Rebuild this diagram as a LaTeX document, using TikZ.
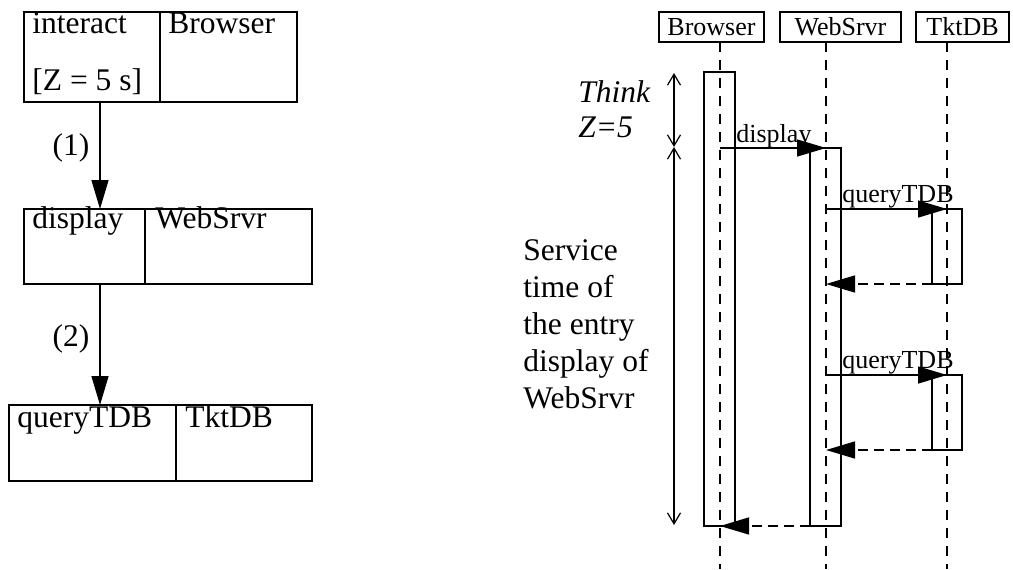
\documentclass[tikz,border=0pt]{standalone}
\usepackage{fontspec}
\setmainfont{Liberation Serif}
\usetikzlibrary{arrows.meta}
\definecolor{seqline}{RGB}{0,0,0}
\tikzset{
  cell/.style  ={draw=seqline, line width=0.7pt, anchor=north west, inner sep=0pt, outer sep=0pt},
  act/.style   ={draw=seqline, line width=0.7pt, anchor=north west, inner sep=0pt, outer sep=0pt, minimum width=15.5pt},
  head/.style  ={draw=seqline, line width=0.7pt, anchor=north west, inner sep=0pt, outer sep=0pt, minimum height=15pt, font=\fontsize{13}{15}\selectfont},
  big/.style   ={font=\fontsize{15.75}{18.5}\selectfont, inner sep=0pt, anchor=base west},
  small/.style ={font=\fontsize{13}{15}\selectfont, inner sep=0pt, anchor=base west},
  life/.style  ={draw=seqline, line width=0.7pt, dash pattern=on 5pt off 4pt},
  call/.style  ={draw=seqline, line width=0.7pt, -{Triangle[length=14.5pt,width=8.5pt]}},
  reply/.style ={call, dash pattern=on 5pt off 3pt},
  span/.style  ={draw=seqline, line width=0.6pt, {Straight Barb[length=5.5pt,width=6.5pt]}-{Straight Barb[length=5.5pt,width=6.5pt]}},
}

\begin{document}
\begin{tikzpicture}[x=0.5pt,y=-0.5pt]
  \useasboundingbox (0,0) rectangle (1013,569);
  % activity graph (left)
  \node[cell, minimum width=68pt, minimum height=45pt] (interactE) at (24,12) {};
  \node[cell, minimum width=68.5pt, minimum height=45pt] (browserT) at (160,12) {};
  \node[cell, minimum width=60.5pt, minimum height=37.5pt] (displayE) at (24,209) {};
  \node[cell, minimum width=83.5pt, minimum height=37.5pt] (websrvrT) at (145,209) {};
  \node[cell, minimum width=83.5pt, minimum height=38pt] (queryE) at (9,405) {};
  \node[cell, minimum width=68pt, minimum height=38pt] (tktdbT) at (176,405) {};
  \node[big] (txinteract) at (32,33) {interact};
  \node[big] (txthink) at (32,90) {[Z = 5 s]};
  \node[big] (txbrowser) at (168,33) {Browser};
  \node[big] (txdisplay) at (32,228) {display};
  \node[big] (txwebsrvr) at (155,228) {WebSrvr};
  \node[big] (txquery) at (17,427) {queryTDB};
  \node[big] (txtktdb) at (185,427) {TktDB};
  \coordinate (callx) at (100,0);
  \draw[call] (interactE.south -| callx) -- node[big, anchor=east, pos=.43, xshift=-5pt] (lbone) {(1)} (displayE.north -| callx);
  \draw[call] (displayE.south -| callx) -- node[big, anchor=east, pos=.45, xshift=-5pt] (lbtwo) {(2)} (queryE.north -| callx);

  % sequence diagram (right)
  \node[head, minimum width=52.5pt] (bhead) at (659,12) {Browser};
  \node[head, minimum width=60.5pt] (whead) at (780,12) {WebSrvr};
  \node[head, minimum width=46.5pt] (thead) at (916,12) {TktDB};
  \coordinate (bl) at (720,569);
  \coordinate (wl) at (826,569);
  \coordinate (tl) at (947,569);
  \draw[life] (bhead.south -| bl) -- (bl);
  \draw[life] (whead.south -| wl) -- (wl);
  \draw[life] (thead.south -| tl) -- (tl);
  \node[act, minimum height=227pt] (bact) at (704,72) {};
  \node[act, minimum height=189pt] (wact) at (810,148) {};
  \node[act, minimum width=15pt, minimum height=37.5pt] (tactone) at (932,209) {};
  \node[act, minimum width=15pt, minimum height=37.5pt] (tacttwo) at (932,375) {};
  \draw[call] (wact.north -| bl) -- (wact.north -| wl);
  \node[small] (lbdisplay) at (736,142) {display};
  \draw[call] (tactone.north -| wl) -- (tactone.north -| tl);
  \node[small] (lbqone) at (842,202) {queryTDB};
  \draw[reply] (tactone.south west) -- (tactone.south -| wl);
  \draw[call] (tacttwo.north -| wl) -- (tacttwo.north -| tl);
  \node[small] (lbqtwo) at (842,368) {queryTDB};
  \draw[reply] (tacttwo.south west) -- (tacttwo.south -| wl);
  \draw[reply] (wact.south west) -- (wact.south -| bl);

  % think and service spans
  \coordinate (thinktop) at (674,73);
  \coordinate (thinkend) at (674,147);
  \coordinate (servend) at (674,525);
  \draw[span] (thinktop) -- (thinkend);
  \draw[span] (thinkend) -- (servend);
  \node[big, font=\fontsize{15.75}{18.5}\selectfont\itshape] (txthinkz) at (578,102) {Think};
  \node[big, font=\fontsize{15.75}{18.5}\selectfont\itshape] (txzfive) at (578,137) {Z=5};
  \node[big, align=left] (txservice) at (523,408) {Service\\time of\\the entry\\display of\\WebSrvr};
\end{tikzpicture}
\end{document}
